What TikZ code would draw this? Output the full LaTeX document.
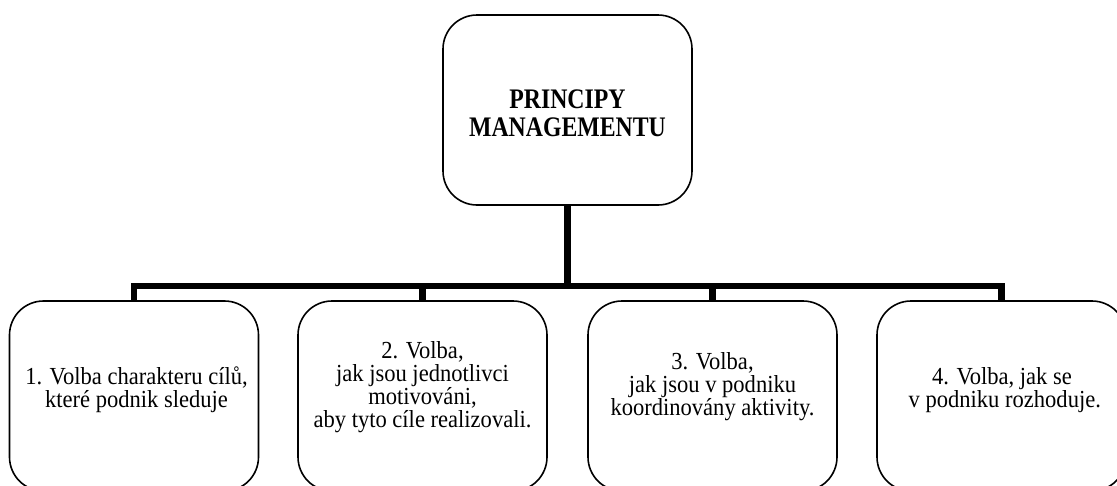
\documentclass[tikz,border=0pt]{standalone}
\usepackage{fontspec}
\setmainfont{Liberation Serif}[FakeStretch=0.92]
\newfontfamily\headfont{Liberation Serif}[FakeStretch=0.84]
\begin{document}
\begin{tikzpicture}[x=1pt,y=-1pt,
  box/.style={draw, line width=1.6pt, rounded corners=34pt,
    minimum width=249pt, minimum height=190pt, inner sep=0pt},
  conn/.style={line width=6.5pt, line join=miter},
  txt/.style={align=center, inner sep=0pt,
    font=\fontsize{24.5}{23}\selectfont},
  headtxt/.style={align=center, inner sep=0pt,
    font=\headfont\bfseries\fontsize{28.3}{27.7}\selectfont}]
\useasboundingbox (0,0) rectangle (1117,485);

% boxes
\node[box] (top) at (567.5,110) {};
\node[box] (b1) at (134,396) {};
\node[box] (b2) at (422.5,396) {};
\node[box] (b3) at (712.5,396) {};
\node[box] (b4) at (1001.5,396) {};

% tree connectors
\coordinate (bar) at (567.5,286);
\draw[conn] (top.south) -- (bar);
\draw[conn] (b1.north) -- (b1.north |- bar) -- (b4.north |- bar) -- (b4.north);
\draw[conn] (b2.north) -- (b2.north |- bar);
\draw[conn] (b3.north) -- (b3.north |- bar);

% labels
\node[headtxt] (ttop) at (567.5,113) {PRINCIPY\\MANAGEMENTU};
\node[txt] (t1) at (136.5,390) {1. Volba charakteru cílů,\\které podnik sleduje};
\node[txt] (t2) at (422.5,387) {2. Volba,\\jak jsou jednotlivci\\motivováni,\\aby tyto cíle realizovali.};
\node[txt] (t3) at (712.5,387) {3. Volba,\\jak jsou v podniku\\koordinovány aktivity.};
\node[txt] (t4) at (1002,390) {4. Volba, jak se\\\ v podniku rozhoduje.};
\end{tikzpicture}
\end{document}
